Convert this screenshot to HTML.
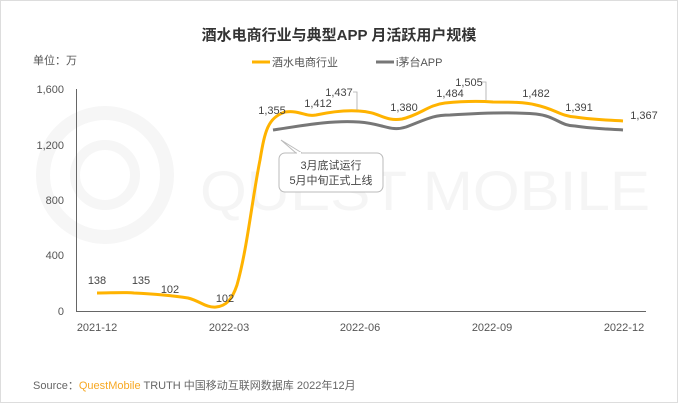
<!DOCTYPE html>
<html><head><meta charset="utf-8"><style>
body{margin:0;background:#fff;}
svg{display:block;font-family:"Liberation Sans","Noto Sans CJK SC",sans-serif;}
</style></head><body>
<svg width="678" height="403" viewBox="0 0 678 403" xmlns="http://www.w3.org/2000/svg">
<rect x="0.5" y="0.5" width="677" height="402" fill="#fff" stroke="#ddd"/>
<!-- watermark -->
<circle cx="105" cy="175" r="62" fill="none" stroke="#f6f6f6" stroke-width="14"/>
<circle cx="105" cy="175" r="30" fill="none" stroke="#f6f6f6" stroke-width="10"/>
<text x="200" y="210" font-size="56" fill="#f5f5f5" textLength="450" lengthAdjust="spacingAndGlyphs">QUEST MOBILE</text>
<text x="339" y="40" text-anchor="middle" font-size="15" font-weight="bold" fill="#333">酒水电商行业与典型APP 月活跃用户规模</text>
<text x="33" y="64" font-size="11" fill="#555">单位：万</text>
<line x1="252" y1="62" x2="270" y2="62" stroke="#FFB300" stroke-width="3"/>
<text x="272" y="66" font-size="11" fill="#555">酒水电商行业</text>
<line x1="376" y1="62" x2="394" y2="62" stroke="#777" stroke-width="3"/>
<text x="396" y="66" font-size="11" fill="#555">i茅台APP</text>
<g font-size="11" fill="#555" text-anchor="end">
<text x="64" y="93">1,600</text><text x="64" y="149">1,200</text><text x="64" y="204">800</text><text x="64" y="259">400</text><text x="64" y="315">0</text>
</g>
<line x1="76.5" y1="89" x2="76.5" y2="311" stroke="#666"/>
<line x1="76" y1="311.5" x2="646" y2="311.5" stroke="#666"/>
<g font-size="11" fill="#555" text-anchor="middle">
<text x="97" y="331">2021-12</text><text x="229" y="331">2022-03</text><text x="360" y="331">2022-06</text><text x="492" y="331">2022-09</text><text x="624" y="331">2022-12</text>
</g>
<path d="M273,130 C300,126 330,120 359,122 C385,124 390,132 406,127 C425,120 432,115 450,115 C480,113 515,112 536,114 C556,116 560,126 575,126 C595,129 610,129 623,130" fill="none" stroke="#777" stroke-width="3"/>
<path d="M97,293 C110,293 125,292 134,293 C155,294 175,296 188,298 C200,301 206,308 216,307 C226,306 232,300 237,285 C247,250 252,200 260,160 C265,130 268,118 285,112 C300,110 305,117 316,115 C330,112 345,110 359,111 C380,112 385,122 402,119 C420,115 428,105 445,103 C465,101 480,101 493,102 C510,102 525,102 536,105 C555,109 560,116 575,117 C595,120 610,120 623,121" fill="none" stroke="#FFB300" stroke-width="3"/>
<g font-size="11" fill="#444" text-anchor="middle">
<text x="97" y="284">138</text><text x="141" y="284">135</text><text x="170" y="293">102</text><text x="225" y="302">102</text>
<text x="272" y="114">1,355</text><text x="318" y="107">1,412</text><text x="339" y="96">1,437</text><text x="404" y="111">1,380</text><text x="450" y="97">1,484</text><text x="469" y="86">1,505</text><text x="536" y="97">1,482</text><text x="579" y="111">1,391</text><text x="644" y="119">1,367</text>
</g>
<path d="M353,92 H357 V110 M482,82 H486 V100" fill="none" stroke="#aaa" stroke-width="0.8"/>
<path d="M296,153 L281,140 L302,153" fill="#fff" stroke="#bbb"/>
<rect x="279" y="153" width="104" height="39" rx="6" fill="#fff" stroke="#bbb"/>
<line x1="297" y1="153" x2="301" y2="153" stroke="#fff" stroke-width="2"/>
<text x="331" y="169" font-size="11" fill="#444" text-anchor="middle">3月底试运行</text>
<text x="331" y="184" font-size="11" fill="#444" text-anchor="middle">5月中旬正式上线</text>
<text x="33" y="389" font-size="11" fill="#666">Source：<tspan fill="#F7A823">QuestMobile</tspan> TRUTH 中国移动互联网数据库 2022年12月</text>
</svg>
</body></html>
